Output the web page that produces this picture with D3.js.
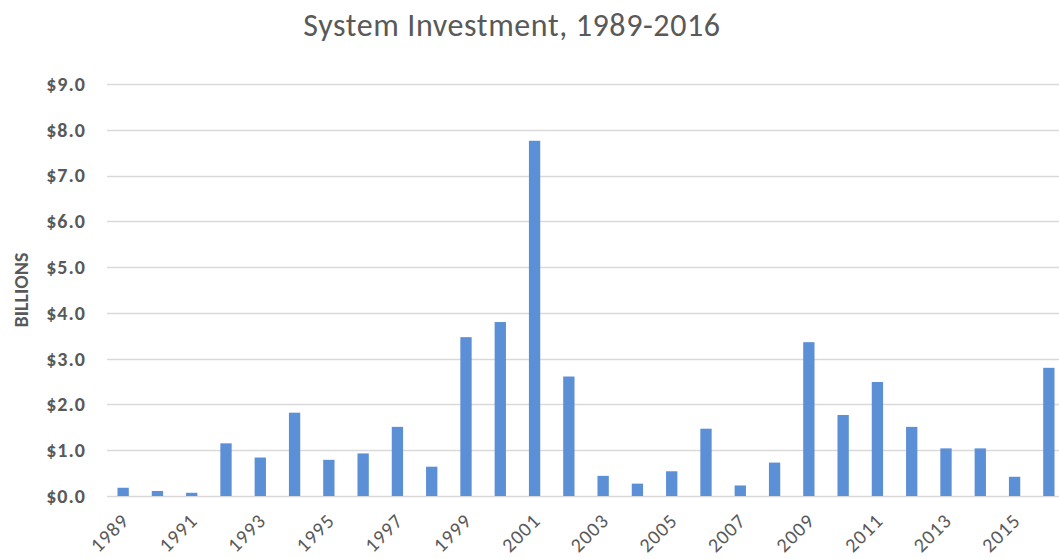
<!DOCTYPE html>
<html>
<head>
<meta charset="utf-8">
<script src="https://cdn.jsdelivr.net/npm/d3@7"></script>
<style>
  body { margin: 0; background: #fff; }
  svg { display: block; }
</style>
</head>
<body>
<div id="chart"></div>
<script>
// Chart data (billions of dollars)
const years = d3.range(1989, 2017).map(String);
const investment = [
  0.18, 0.11, 0.07, 1.15, 0.84, 1.82, 0.79, 0.93, 1.51, 0.64,
  3.47, 3.80, 7.76, 2.61, 0.44, 0.27, 0.54, 1.47, 0.23, 0.73,
  3.36, 1.77, 2.49, 1.51, 1.04, 1.04, 0.42, 2.80
];
const yTicks = [0, 1, 2, 3, 4, 5, 6, 7, 8, 9];
const labelYears = years.filter((d, i) => i % 2 === 0);

const svgWidth = 1059;
const svgHeight = 559;

const textColor = "#595959";
const fontFamily = "Carlito, 'Open Sans', 'Noto Sans', sans-serif";

const svg = d3.select("#chart")
  .append("svg")
  .attr("width", svgWidth)
  .attr("height", svgHeight);

// scales
const x = d3.scaleBand()
  .domain(years)
  .range([106, 1066])
  .paddingInner(0.67)
  .paddingOuter(0.335);

const y = d3.scaleLinear()
  .domain([0, 9])
  .range([496, 84]);

// gridlines
svg.append("g")
  .selectAll("line")
  .data(yTicks)
  .enter()
  .append("line")
  .attr("x1", 107)
  .attr("x2", svgWidth)
  .attr("y1", d => Math.round(y(d)) + 0.5)
  .attr("y2", d => Math.round(y(d)) + 0.5)
  .attr("stroke", "#d9d9d9")
  .attr("stroke-width", 1.5);

// y axis labels
const yAxis = d3.axisLeft(y)
  .tickValues(yTicks)
  .tickSize(0)
  .tickPadding(0)
  .tickFormat(d => "$" + d3.format(".1f")(d));

svg.append("g")
  .attr("transform", "translate(86,0)")
  .call(yAxis)
  .call(g => g.select(".domain").remove())
  .selectAll("text")
  .attr("fill", textColor)
  .attr("font-family", fontFamily)
  .attr("font-size", 20)
  .attr("letter-spacing", 1)
  .attr("font-weight", "bold");

// bars
svg.append("g")
  .selectAll("rect")
  .data(investment)
  .enter()
  .append("rect")
  .attr("x", (d, i) => x(years[i]))
  .attr("y", d => y(d))
  .attr("width", x.bandwidth())
  .attr("height", d => y(0) - y(d))
  .attr("fill", "#5b8fd6");

// x labels, every other year
svg.append("g")
  .selectAll("text")
  .data(labelYears)
  .enter()
  .append("text")
  .attr("transform", d => `translate(${x(d) + x.bandwidth() / 2 + 2}, 517) rotate(-45)`)
  .attr("text-anchor", "end")
  .attr("dy", "0.35em")
  .attr("fill", textColor)
  .attr("font-family", fontFamily)
  .attr("font-size", 20)
  .attr("letter-spacing", 1)
  .text(d => d);

// axis title
svg.append("text")
  .attr("transform", "translate(28, 290) rotate(-90)")
  .attr("text-anchor", "middle")
  .attr("fill", textColor)
  .attr("font-family", fontFamily)
  .attr("font-size", 20)
  .attr("font-weight", "bold")
  .text("BILLIONS");

// chart title
svg.append("text")
  .attr("x", 512)
  .attr("y", 36)
  .attr("text-anchor", "middle")
  .attr("fill", textColor)
  .attr("font-family", fontFamily)
  .attr("font-size", 32)
  .attr("letter-spacing", 0.6)
  .text("System Investment, 1989-2016");
</script>
</body>
</html>
